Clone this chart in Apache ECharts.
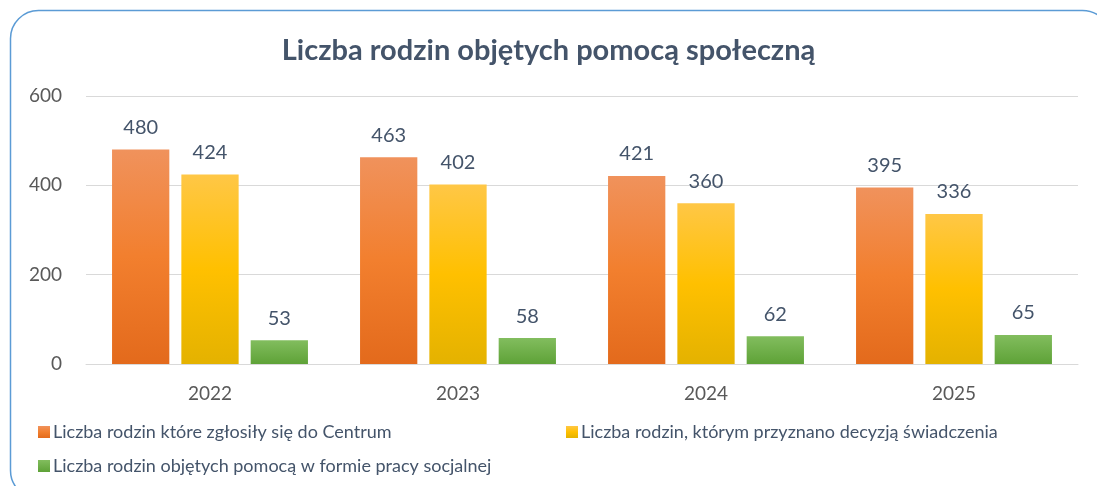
<!DOCTYPE html>
<html>
<head>
<meta charset="utf-8">
<script src="https://cdn.jsdelivr.net/npm/echarts@6/dist/echarts.min.js"></script>
<style>
html, body { margin: 0; padding: 0; background: #fff; }
#container { width: 1097px; height: 486px; }
</style>
</head>
<body>
<div id="container"></div>
<script>
var years = ['2022', '2023', '2024', '2025'];
var zglosily = [480, 463, 421, 395];
var przyznano = [424, 402, 360, 336];
var pracaSocjalna = [53, 58, 62, 65];
var seriesNames = [
    'Liczba rodzin które zgłosiły się do Centrum',
    'Liczba rodzin, którym przyznano decyzją świadczenia',
    'Liczba rodzin objętych pomocą w formie pracy socjalnej'
];

var dom = document.getElementById('container');
var myChart = echarts.init(dom);
var font = 'Lato, "Open Sans", sans-serif';

function grad(stops) {
    return new echarts.graphic.LinearGradient(0, 0, 0, 1, stops.map(function (c, i) {
        return { offset: i / (stops.length - 1), color: c };
    }));
}

var labelStyle = {
    show: true,
    position: 'top',
    distance: 12,
    color: '#44546A',
    fontSize: 20,
    fontFamily: font
};

function legendFor(name, left, top) {
    return {
        data: [name],
        left: left,
        top: top,
        icon: 'rect',
        itemWidth: 12,
        itemHeight: 12,
        itemGap: 6,
        selectedMode: false,
        textStyle: { color: '#44546A', fontSize: 18, fontFamily: font, padding: [0, 0, 0, -2] }
    };
}

var option = {
    backgroundColor: '#ffffff',
    animation: false,
    title: {
        text: 'Liczba rodzin objętych pomocą społeczną',
        left: 'center',
        top: 31,
        textStyle: { color: '#44546A', fontSize: 29, fontWeight: 'bold', fontFamily: font }
    },
    graphic: [{
        type: 'rect',
        shape: { x: 10.5, y: 10.5, width: 1100, height: 488, r: 28 },
        style: { fill: 'none', stroke: '#5B9BD5', lineWidth: 1.5 },
        silent: true
    }],
    legend: [
        legendFor(seriesNames[0], 33, 418),
        legendFor(seriesNames[1], 561, 418),
        legendFor(seriesNames[2], 33, 452)
    ],
    grid: { left: 86, right: 19, top: 96, bottom: 122 },
    xAxis: {
        type: 'category',
        data: years,
        axisLine: { lineStyle: { color: '#D9D9D9', width: 1 } },
        axisTick: { show: false },
        axisLabel: { color: '#595959', fontSize: 19, fontFamily: font, margin: 20 }
    },
    yAxis: {
        type: 'value',
        min: 0,
        max: 600,
        interval: 200,
        axisLine: { show: false },
        axisTick: { show: false },
        splitLine: { lineStyle: { color: '#D9D9D9', width: 1 } },
        axisLabel: { color: '#595959', fontSize: 19, fontFamily: font, margin: 24 }
    },
    series: [
        {
            name: seriesNames[0],
            type: 'bar',
            data: zglosily,
            barGap: '21%',
            barCategoryGap: '21%',
            label: labelStyle,
            itemStyle: { color: grad(['#F0925C', '#F27F2E', '#E36A1C']) }
        },
        {
            name: seriesNames[1],
            type: 'bar',
            data: przyznano,
            label: labelStyle,
            itemStyle: { color: grad(['#FFC746', '#FFC000', '#E4B200']) }
        },
        {
            name: seriesNames[2],
            type: 'bar',
            data: pracaSocjalna,
            label: labelStyle,
            itemStyle: { color: grad(['#82BD5E', '#5EA237']) }
        }
    ]
};

myChart.setOption(option, true);
</script>
</body>
</html>
